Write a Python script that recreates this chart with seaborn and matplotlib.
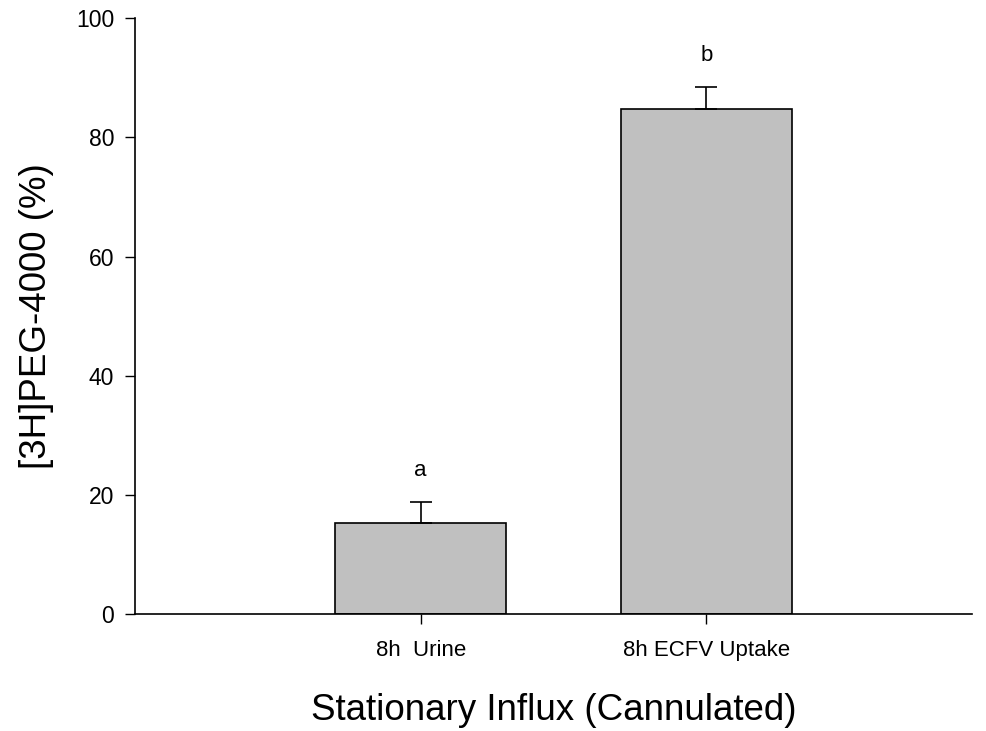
import matplotlib
matplotlib.use("Agg")
import matplotlib.pyplot as plt
import seaborn as sns
import pandas as pd

categories = ["8h  Urine", "8h ECFV Uptake"]
means = [15.2, 84.8]
errors = [3.6, 3.6]
letters = ["a", "b"]
yticks = [0, 20, 40, 60, 80, 100]

sns.set_theme(style="white")
plt.rcParams['font.family'] = ['Liberation Sans', 'DejaVu Sans']
plt.rcParams['text.color'] = 'black'
plt.rcParams['axes.labelcolor'] = 'black'
plt.rcParams['xtick.color'] = 'black'
plt.rcParams['ytick.color'] = 'black'

df = pd.DataFrame({"cat": categories, "val": means})
fig = plt.figure(figsize=(9.87, 7.31), dpi=100)
ax = fig.add_axes([0.1368, 0.160, 0.848, 0.815])
sns.barplot(data=df, x="cat", y="val", color="#c0c0c0", width=0.6,
            edgecolor="black", linewidth=1.2, saturation=1, ax=ax, errorbar=None)
xs = list(range(len(categories)))
ax.errorbar(xs, means, yerr=[[0]*len(errors), errors], fmt="none", ecolor="black",
            elinewidth=1.2, capsize=8, capthick=1.2)
for x, m, e, l in zip(xs, means, errors, letters):
    ax.text(x, m + e + 5.3, l, ha="center", va="center", fontsize=16, color="black")

ax.set_xlim(-1.0, 1.93)
ax.set_ylim(0, 100)
ax.set_yticks(yticks)
ax.set_yticklabels([str(t) for t in yticks], fontsize=16.5)
ax.tick_params(axis="x", labelsize=16, direction="out", length=7, width=1, bottom=True, pad=12)
ax.tick_params(axis="y", direction="out", length=7, width=1, left=True, pad=8)
for s in ["top", "right"]:
    ax.spines[s].set_visible(False)
for s in ["left", "bottom"]:
    ax.spines[s].set_color("black")
    ax.spines[s].set_linewidth(1.2)
ax.set_xlabel("Stationary Influx (Cannulated)", fontsize=26.5, labelpad=23)
ax.set_ylabel("[3H]PEG-4000 (%)", fontsize=26.5, labelpad=16)
fig.savefig("out.png", dpi=100)
